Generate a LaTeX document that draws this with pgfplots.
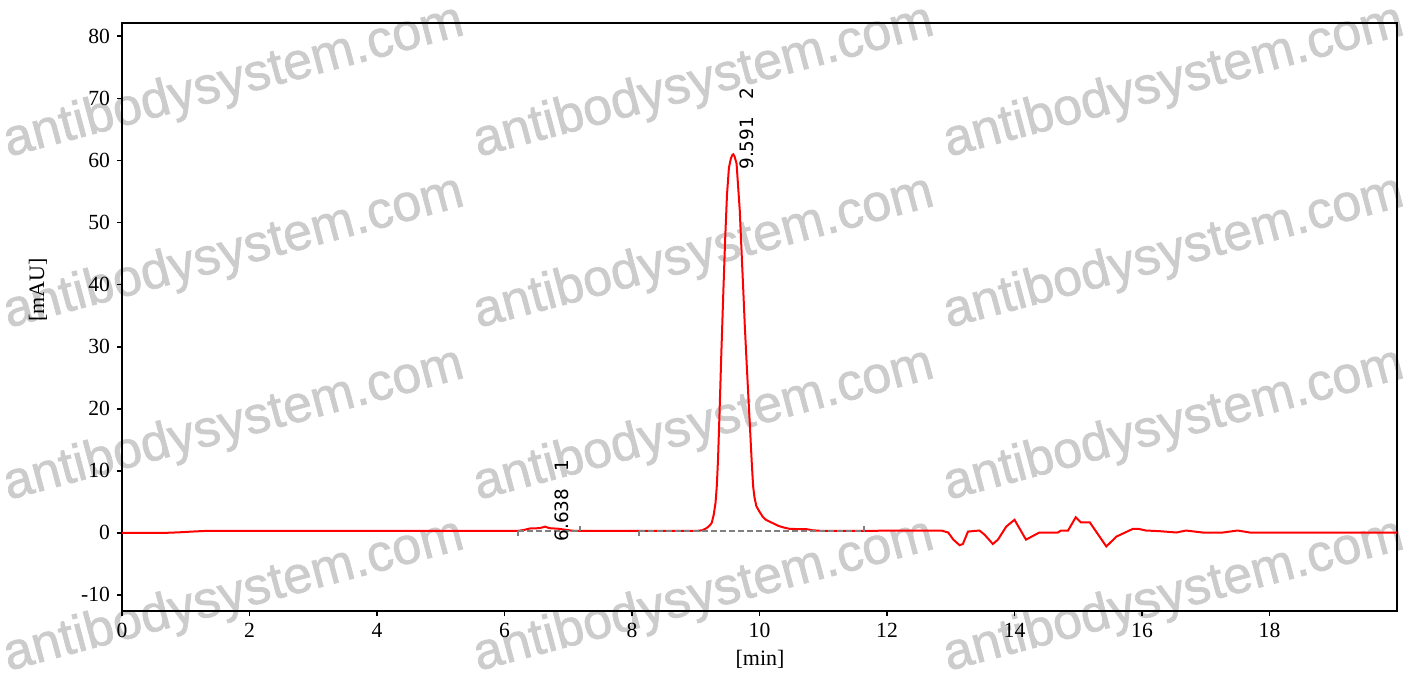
\documentclass[border=0pt]{standalone}
\usepackage{fontspec}
\setmainfont{Liberation Serif}
\newfontfamily\wmfont[BoldFont={Liberation Sans}, BoldFeatures={FakeBold=1.2}]{Liberation Sans}
\newfontfamily\lblfont{DejaVu Sans}
\usepackage{pgfplots}
\pgfplotsset{compat=1.18}
\usetikzlibrary{calc}

\begin{document}
\begin{tikzpicture}
\useasboundingbox (-61pt,-32.5pt) rectangle (645.5pt,305.5pt);
\fill[white] (-61pt,-32.5pt) rectangle (645.5pt,305.5pt);
\begin{scope}
\clip (-61pt,-32.5pt) rectangle (645.5pt,305.5pt);
\foreach \yy in {227,141.5,55.5,-30}{
  \foreach \xx in {-57,178,413}{
    \node[anchor=base west, rotate=15, inner sep=0pt, text=black!20,
          font=\wmfont\bfseries\fontsize{26}{26}\selectfont] at (\xx pt,\yy pt) {antibodysystem.com};
  }
}
\end{scope}
\begin{axis}[
  at={(0pt,0pt)}, anchor=south west,
  scale only axis, width=637.5pt, height=294.15pt,
  xmin=0, xmax=20, ymin=-12.6, ymax=82.2,
  axis line style={line width=1.1pt},
  xtick={0,2,4,6,8,10,12,14,16,18},
  xticklabels={0,2,4,6,8,10,12,14,16,18},
  ytick={-10,0,10,20,30,40,50,60,70,80},
  yticklabels={-10,0,10,20,30,40,50,60,70,80},
  xtick pos=bottom, ytick pos=left,
  tick align=outside, major tick length=2.5pt,
  tick style={black, line width=0.9pt},
  ticklabel style={font=\fontsize{10.8}{11}\selectfont},
  xlabel={[min]}, ylabel={[mAU]},
  label style={font=\fontsize{11}{12}\selectfont},
  xlabel style={at={(axis description cs:0.5004,-0.083)}, anchor=center},
  ylabel style={at={(axis description cs:-0.066,0.546)}, anchor=center, rotate=0},
  clip=true,
]
\addplot[red, line width=1pt, no marks] coordinates {
(0,0) (0.7,0) (0.9,0.08) (1.1,0.2) (1.3,0.3) (6.2,0.3) (6.3,0.45) (6.4,0.7) (6.55,0.75)
(6.64,1.0) (6.7,0.75) (6.85,0.65) (6.95,0.5) (7.05,0.35) (7.15,0.3) (9.0,0.3)
(9.10,0.4) (9.17,0.75) (9.22,1.2) (9.25,1.6) (9.28,2.8) (9.31,4.8) (9.33,7.5) (9.35,12)
(9.375,20) (9.40,28.5) (9.43,38) (9.46,47) (9.49,54.5) (9.52,58.8) (9.55,60.3) (9.575,60.9)
(9.59,61.0) (9.61,60.6) (9.64,59.5) (9.67,55) (9.69,52) (9.72,45) (9.75,38) (9.77,33.2)
(9.80,27) (9.83,21) (9.85,17.1) (9.88,11) (9.90,7.5) (9.92,5.8) (9.95,4.3) (10.0,3.4)
(10.05,2.6) (10.1,2.1) (10.2,1.6) (10.3,1.1) (10.4,0.8) (10.47,0.65) (10.6,0.6) (10.73,0.6)
(10.84,0.4) (11.0,0.3) (12.85,0.37) (12.96,0.05) (13.04,-1.1) (13.14,-2.0) (13.19,-1.8)
(13.27,0.2) (13.45,0.37) (13.53,-0.3) (13.66,-1.8) (13.74,-1.1) (13.87,1.0) (14.00,2.1)
(14.18,-1.1) (14.39,0.05) (14.68,0.05) (14.73,0.37) (14.84,0.37) (14.96,2.5) (15.04,1.7)
(15.18,1.7) (15.44,-2.2) (15.60,-0.6) (15.86,0.65) (15.94,0.65) (16.06,0.37) (16.27,0.27)
(16.54,0.05) (16.69,0.37) (16.95,0.05) (17.27,0.05) (17.5,0.37) (17.69,0.05) (18.47,0.05)
(20,0.05)
};
\addplot[black!50, dash pattern=on 3pt off 1.5pt, line width=0.6pt, no marks] coordinates {(6.21,0.3) (7.18,0.3)};
\addplot[black!50, dash pattern=on 3pt off 1.5pt, line width=0.6pt, no marks] coordinates {(8.11,0.3) (11.64,0.3)};
\addplot[black!50, line width=0.8pt, no marks] coordinates {(6.21,0.3) (6.21,-0.5)};
\addplot[black!50, line width=0.8pt, no marks] coordinates {(7.18,0.3) (7.18,1.1)};
\addplot[black!50, line width=0.8pt, no marks] coordinates {(8.11,0.3) (8.11,-0.5)};
\addplot[black!50, line width=0.8pt, no marks] coordinates {(11.64,0.3) (11.64,1.1)};
\node[rotate=90, anchor=north west, inner sep=0pt, font=\lblfont\fontsize{9.2}{10}\selectfont]
  at (axis cs:6.789,-1.45) {6.638\hspace{0.95em}1};
\node[rotate=90, anchor=north west, inner sep=0pt, font=\lblfont\fontsize{9.2}{10}\selectfont]
  at (axis cs:9.690,58.45) {9.591\hspace{0.95em}2};
\end{axis}
\end{tikzpicture}
\end{document}
